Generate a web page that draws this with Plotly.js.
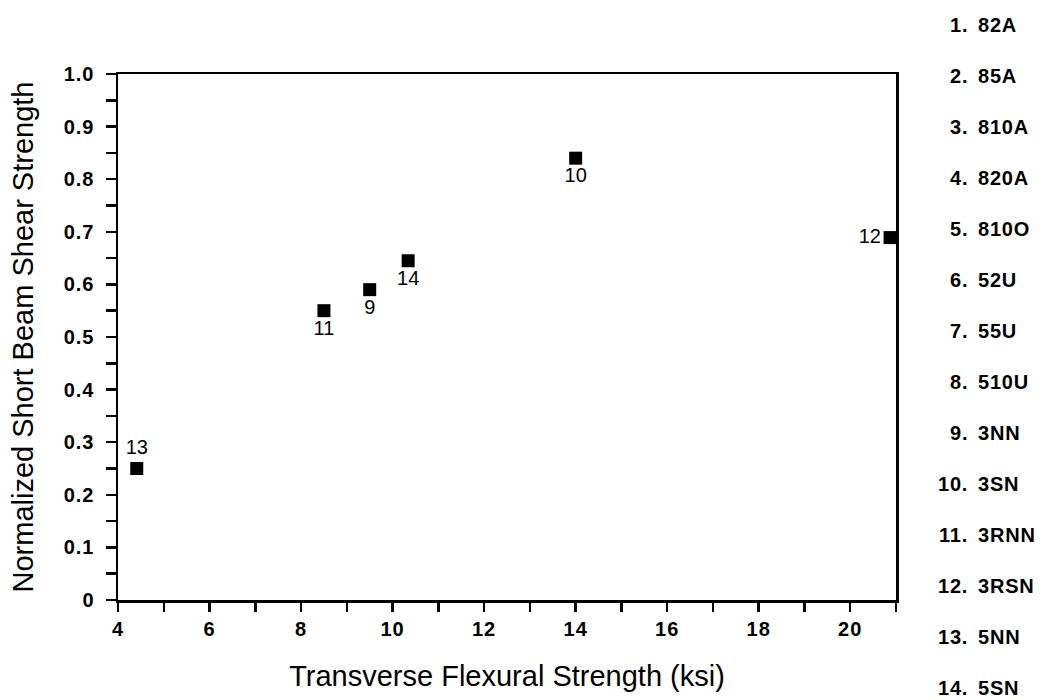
<!DOCTYPE html>
<html>
<head>
<meta charset="utf-8">
<script src="https://cdn.plot.ly/plotly-3.0.1.min.js"></script>
<style>
  html, body { margin: 0; padding: 0; background: #fff; }
  #chart { width: 1048px; height: 700px; }
  .xtick text, .ytick text { letter-spacing: 1px; }
  .annotation-text { letter-spacing: 0.8px; }
</style>
</head>
<body>
<div id="chart"></div>
<script>
// Specimen ids plotted, with their flexural and normalized shear strengths
const pointIds = ['13', '11', '9', '14', '10', '12'];
const flexuralKsi = [4.41, 8.5, 9.5, 10.34, 14.0, 20.87];
const normShear = [0.25, 0.55, 0.59, 0.645, 0.84, 0.689];
const labelPositions = ['top center', 'bottom center', 'bottom center', 'bottom center', 'bottom center', 'middle left'];

// Key of all specimen codes
const keyNumbers = ['1.', '2.', '3.', '4.', '5.', '6.', '7.', '8.', '9.', '10.', '11.', '12.', '13.', '14.'];
const keyCodes = ['82A', '85A', '810A', '820A', '810O', '52U', '55U', '510U', '3NN', '3SN', '3RNN', '3RSN', '5NN', '5SN'];

// Tick labels
const yTickVals = [0, 0.1, 0.2, 0.3, 0.4, 0.5, 0.6, 0.7, 0.8, 0.9, 1.0];
const yTickText = ['0', '0.1', '0.2', '0.3', '0.4', '0.5', '0.6', '0.7', '0.8', '0.9', '1.0'];
const xTickVals = [4, 6, 8, 10, 12, 14, 16, 18, 20];

const W = 1048, H = 700;
const M = { l: 118, r: 152, t: 74, b: 100 };
const plotW = W - M.l - M.r, plotH = H - M.t - M.b;
const pxToPaperX = px => (px - M.l) / plotW;
const pxToPaperY = py => (H - M.b - py) / plotH;

const tickFont = { family: 'Liberation Sans, Arial, sans-serif', size: 20, color: '#000', weight: 'bold' };
const titleFont = { family: 'Liberation Sans, Arial, sans-serif', size: 29, color: '#000' };
const keyFont = { family: 'Liberation Sans, Arial, sans-serif', size: 20, color: '#000', weight: 'bold' };

const trace = {
  type: 'scatter',
  mode: 'markers+text',
  x: flexuralKsi,
  y: normShear,
  text: pointIds,
  textposition: labelPositions,
  textfont: { family: 'Liberation Sans, Arial, sans-serif', size: 20, color: '#000', weight: 500 },
  marker: { symbol: 'square', size: 13, color: '#000' },
  cliponaxis: false,
  hoverinfo: 'x+y'
};

const annotations = [];
keyNumbers.forEach((num, i) => {
  const yPx = 25 + i * 51;
  annotations.push({
    xref: 'paper', yref: 'paper',
    x: pxToPaperX(970), y: pxToPaperY(yPx),
    xanchor: 'right', yanchor: 'middle',
    text: num, showarrow: false, font: keyFont
  });
  annotations.push({
    xref: 'paper', yref: 'paper',
    x: pxToPaperX(976), y: pxToPaperY(yPx),
    xanchor: 'left', yanchor: 'middle',
    text: keyCodes[i], showarrow: false, font: keyFont
  });
});

const layout = {
  width: W, height: H,
  margin: M,
  paper_bgcolor: '#fff',
  plot_bgcolor: '#fff',
  showlegend: false,
  xaxis: {
    range: [4, 21],
    tickvals: xTickVals,
    ticks: 'outside', ticklen: 9, tickwidth: 2.5, tickcolor: '#000',
    minor: { dtick: 1, tick0: 4, ticks: 'outside', ticklen: 9, tickwidth: 2.5, tickcolor: '#000', showgrid: false },
    showline: true, linewidth: 2.5, linecolor: '#000', mirror: true,
    showgrid: false, zeroline: false,
    tickfont: tickFont,
    title: { text: 'Transverse Flexural Strength (ksi)', font: titleFont, standoff: 27 }
  },
  yaxis: {
    range: [0, 1],
    tickvals: yTickVals, ticktext: yTickText,
    ticks: 'outside', ticklen: 10, tickwidth: 2.5, tickcolor: '#000',
    ticklabelstandoff: 7,
    minor: { dtick: 0.05, tick0: 0, ticks: 'outside', ticklen: 10, tickwidth: 2.5, tickcolor: '#000', showgrid: false },
    showline: true, linewidth: 2.5, linecolor: '#000', mirror: true,
    showgrid: false, zeroline: false,
    tickfont: tickFont,
    title: { text: 'Normalized Short Beam Shear Strength', font: titleFont, standoff: 22 }
  },
  annotations: annotations
};

Plotly.newPlot('chart', [trace], layout, { displayModeBar: false, staticPlot: true });
</script>
</body>
</html>
